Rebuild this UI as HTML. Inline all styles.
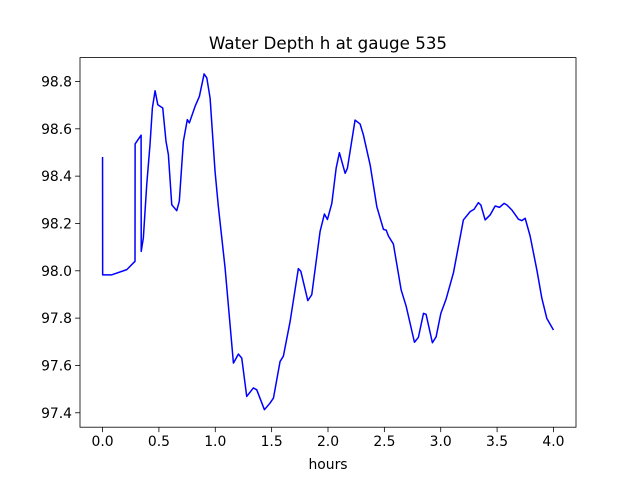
<!DOCTYPE html>
<html><head><meta charset="utf-8"><style>body{margin:0;background:#fff}svg{display:block}</style></head>
<body>
<svg id="chart" width="640" height="480" xmlns="http://www.w3.org/2000/svg" font-family="DejaVu Sans, Liberation Sans, sans-serif">
<rect width="640" height="480" fill="#fff"/>
<text x="328" y="49" text-anchor="middle" font-size="16.7">Water Depth h at gauge 535</text>
<g id="plot"></g>
<text x="328" y="469" text-anchor="middle" font-size="13.9">hours</text>
</svg>
<script>
const hours=[0.0,0.001,0.082,0.215,0.288,0.289,0.342,0.343,0.362,0.392,0.421,0.442,0.466,0.490,0.534,0.563,0.584,0.614,0.658,0.681,0.717,0.752,0.770,0.821,0.859,0.901,0.925,0.954,0.998,1.027,1.087,1.161,1.205,1.235,1.279,1.338,1.368,1.436,1.486,1.516,1.575,1.604,1.664,1.737,1.759,1.821,1.856,1.930,1.968,1.995,2.034,2.072,2.101,2.152,2.172,2.240,2.285,2.314,2.374,2.433,2.492,2.516,2.536,2.580,2.649,2.693,2.767,2.802,2.847,2.870,2.926,2.959,3.001,3.048,3.113,3.201,3.261,3.296,3.334,3.356,3.394,3.438,3.483,3.521,3.563,3.587,3.631,3.689,3.720,3.749,3.793,3.853,3.897,3.941,4.000];
const depth=[98.481,97.983,97.983,98.005,98.040,98.536,98.573,98.082,98.139,98.364,98.533,98.688,98.761,98.702,98.688,98.547,98.491,98.279,98.254,98.294,98.547,98.639,98.625,98.695,98.737,98.832,98.815,98.730,98.420,98.273,98.012,97.610,97.648,97.631,97.469,97.505,97.497,97.413,97.441,97.462,97.617,97.639,97.786,98.009,97.998,97.874,97.899,98.167,98.240,98.217,98.285,98.433,98.499,98.412,98.433,98.637,98.620,98.574,98.447,98.271,98.175,98.172,98.147,98.113,97.919,97.851,97.698,97.719,97.820,97.816,97.696,97.721,97.820,97.881,97.992,98.215,98.250,98.260,98.288,98.278,98.215,98.236,98.274,98.268,98.285,98.278,98.257,98.218,98.212,98.222,98.147,98.003,97.884,97.799,97.750];
const xTicks=[0,0.5,1,1.5,2,2.5,3,3.5,4];
const xTickLabels=["0.0","0.5","1.0","1.5","2.0","2.5","3.0","3.5","4.0"];
const yTicks=[97.4,97.6,97.8,98.0,98.2,98.4,98.6,98.8];
const yTickLabels=["97.4","97.6","97.8","98.0","98.2","98.4","98.6","98.8"];

const L=80,R=576,T=57.6,B=427.2;
const xMin=-0.2,xMax=4.2,yMin=97.339,yMax=98.901;
const sx=v=>L+(v-xMin)/(xMax-xMin)*(R-L);
const sy=v=>B-(v-yMin)/(yMax-yMin)*(B-T);
const NS="http://www.w3.org/2000/svg";
const g=document.getElementById('plot');
function mk(tag,attrs){const e=document.createElementNS(NS,tag);for(const k in attrs)e.setAttribute(k,attrs[k]);g.appendChild(e);return e;}

let d='';
hours.forEach((h,i)=>{d+=(i?'L':'M')+sx(h).toFixed(2)+','+sy(depth[i]).toFixed(2);});
const line=mk('path',{d:d,fill:'none',stroke:'#0000ff','stroke-width':1.5,'stroke-linejoin':'round'});



xTicks.forEach((t,i)=>{
  const x=sx(t);
  const tk=mk('line',{x1:x,x2:x,y1:B,y2:B+4.9,stroke:'#000','stroke-width':0.8});
  
  
  const tx=mk('text',{x:x,y:B+19,'text-anchor':'middle','font-size':13.9});
  tx.textContent=xTickLabels[i];
  
  
});
yTicks.forEach((t,i)=>{
  const y=sy(t);
  const tk=mk('line',{x1:L-4.9,x2:L,y1:y,y2:y,stroke:'#000','stroke-width':0.8});
  
  
  const tx=mk('text',{x:L-8,y:y+5,'text-anchor':'end','font-size':13.9});
  tx.textContent=yTickLabels[i];
  
  
});
const fr=mk('rect',{x:L,y:T,width:R-L,height:B-T,fill:'none',stroke:'#000','stroke-width':0.8});


</script>
</body></html>
